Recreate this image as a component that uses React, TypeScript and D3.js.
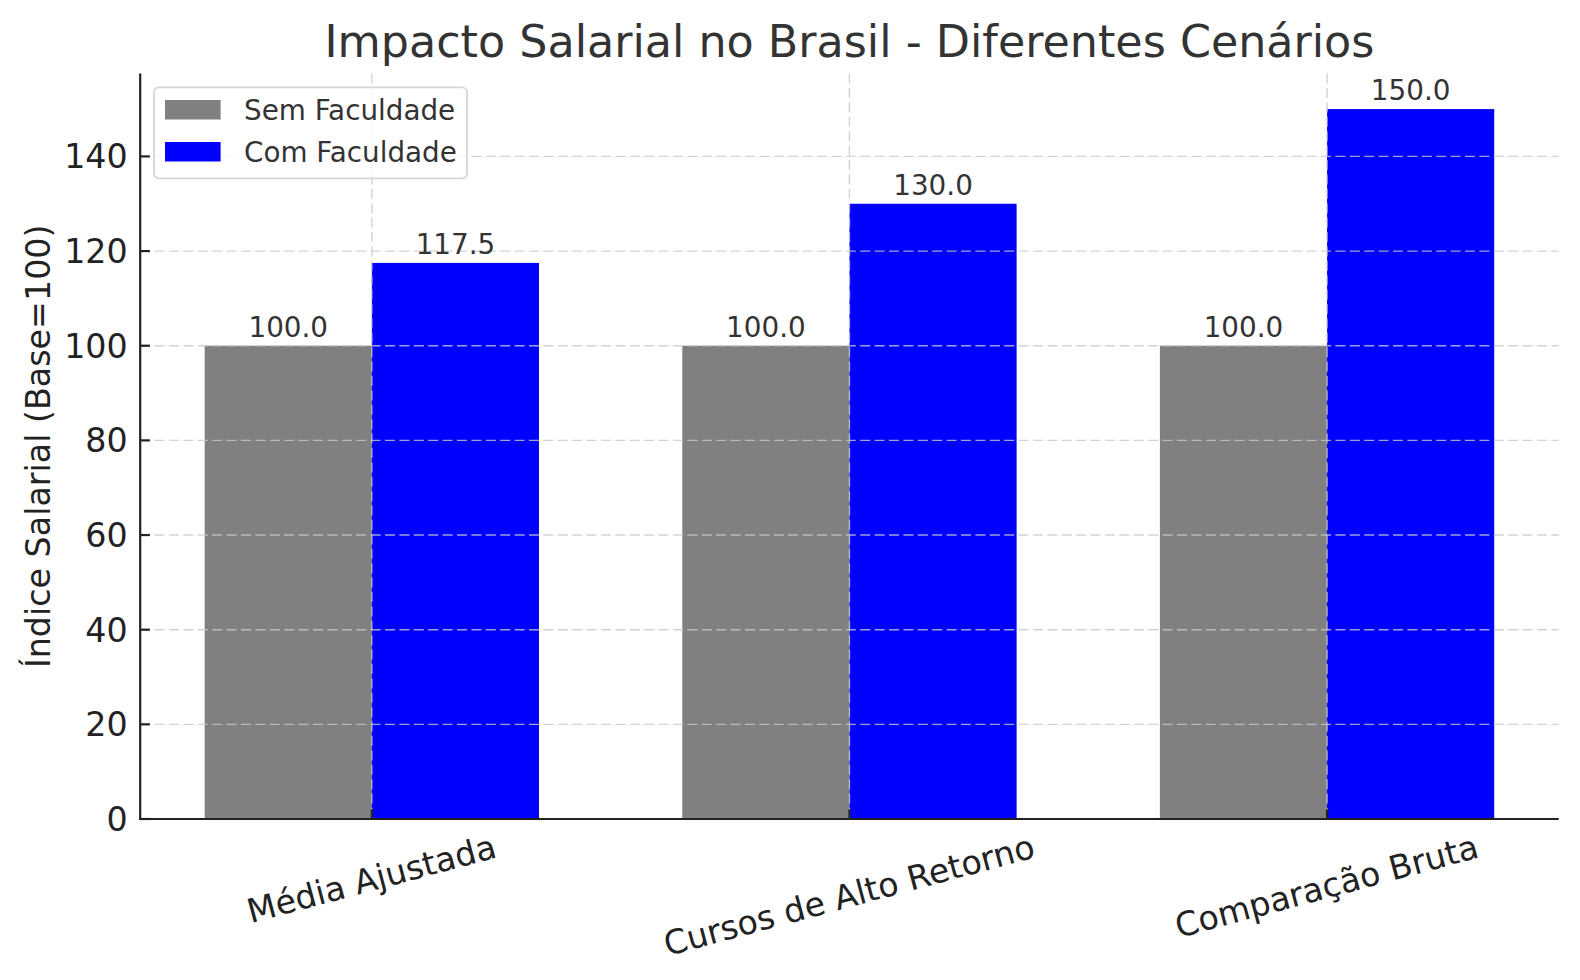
import React, { useEffect, useRef } from "react";
import * as d3 from "d3";

const categories = ["Média Ajustada", "Cursos de Alto Retorno", "Comparação Bruta"];
const semFaculdade = [100.0, 100.0, 100.0];
const comFaculdade = [117.5, 130.0, 150.0];
const seriesNames = ["Sem Faculdade", "Com Faculdade"];
const seriesColors = ["#808080", "#0000ff"];
const yTicks = [0, 20, 40, 60, 80, 100, 120, 140];
const title = "Impacto Salarial no Brasil - Diferentes Cenários";
const yLabel = "Índice Salarial (Base=100)";

const W = 1580;
const H = 980;
const FONT = "DejaVu Sans, sans-serif";

export default function App() {
  const ref = useRef<SVGSVGElement | null>(null);

  useEffect(() => {
    const svg = d3.select(ref.current);
    svg.selectAll("*").remove();

    const left = 140.2, right = 1558.7, top = 73.6, bottom = 819;
    const barW = 0.35;
    const x = d3.scaleLinear().domain([-0.485, 2.485]).range([left, right]);
    const yMax = 150 * 1.05;
    const y = d3.scaleLinear().domain([0, yMax]).range([bottom, top]);

    const series = [semFaculdade, comFaculdade];
    const offsets = [-barW / 2, barW / 2];

    // bars
    series.forEach((vals, si) => {
      svg.append("g")
        .selectAll("rect")
        .data(vals)
        .join("rect")
        .attr("x", (_d, i) => x(i + offsets[si] - barW / 2))
        .attr("width", (_d, i) => x(i + offsets[si] + barW / 2) - x(i + offsets[si] - barW / 2))
        .attr("y", (d) => y(d))
        .attr("height", (d) => y(0) - y(d))
        .attr("fill", seriesColors[si]);
    });

    // grid (above bars)
    const grid = svg.append("g")
      .attr("stroke", "#c8c8c8")
      .attr("stroke-opacity", 0.8)
      .attr("stroke-width", 1.4)
      .attr("stroke-dasharray", "10,4.4");
    grid.selectAll("line.h")
      .data(yTicks)
      .join("line")
      .attr("class", "h")
      .attr("x1", left).attr("x2", right)
      .attr("y1", (d) => y(d)).attr("y2", (d) => y(d));
    grid.selectAll("line.v")
      .data(categories.map((_c, i) => i))
      .join("line")
      .attr("class", "v")
      .attr("x1", (d) => x(d)).attr("x2", (d) => x(d))
      .attr("y1", top).attr("y2", bottom);

    // value labels
    series.forEach((vals, si) => {
      svg.append("g")
        .selectAll("text")
        .data(vals)
        .join("text")
        .attr("x", (_d, i) => x(i + offsets[si]))
        .attr("y", (d) => y(d) - 9)
        .attr("text-anchor", "middle")
        .attr("font-family", FONT)
        .attr("font-size", 27.8)
        .attr("fill", "#333333")
        .text((d) => d.toFixed(1));
    });

    // spines
    svg.append("line")
      .attr("x1", left).attr("x2", left).attr("y1", top).attr("y2", bottom + 1.1)
      .attr("stroke", "#222222").attr("stroke-width", 2.2);
    svg.append("line")
      .attr("x1", left - 1.1).attr("x2", right).attr("y1", bottom).attr("y2", bottom)
      .attr("stroke", "#222222").attr("stroke-width", 2.2);

    // y ticks (inward) and labels
    const yt = svg.append("g");
    yt.selectAll("line")
      .data(yTicks)
      .join("line")
      .attr("x1", left).attr("x2", left + 9.7)
      .attr("y1", (d) => y(d)).attr("y2", (d) => y(d))
      .attr("stroke", "#222222").attr("stroke-width", 2.2);
    yt.selectAll("text")
      .data(yTicks)
      .join("text")
      .attr("x", left - 12.5)
      .attr("y", (d) => y(d))
      .attr("dy", "0.36em")
      .attr("text-anchor", "end")
      .attr("font-family", FONT)
      .attr("font-size", 33.3)
      .attr("fill", "#222222")
      .text((d) => String(d));

    // x ticks (inward)
    svg.append("g")
      .selectAll("line")
      .data(categories.map((_c, i) => i))
      .join("line")
      .attr("x1", (d) => x(d)).attr("x2", (d) => x(d))
      .attr("y1", bottom).attr("y2", bottom - 9.7)
      .attr("stroke", "#222222").attr("stroke-width", 2.2);

    // x tick labels rotated 15deg
    const ang = 15 * Math.PI / 180;
    const lineH = 33.3 * 1.16;
    const xl = svg.append("g");
    categories.forEach((c, i) => {
      const t = xl.append("text")
        .attr("text-anchor", "middle")
        .attr("dy", "0.3em")
        .attr("font-family", FONT)
        .attr("font-size", 33.3)
        .attr("fill", "#222222")
        .text(c);
      const w = (t.node() as SVGTextElement).getComputedTextLength();
      const hh = w * Math.sin(ang) + lineH * Math.cos(ang);
      const cx = x(i);
      const cy = bottom + 9.7 + hh / 2;
      t.attr("transform", `translate(${cx},${cy}) rotate(-15)`);
    });

    // y label
    svg.append("text")
      .attr("transform", `translate(50,${(top + bottom) / 2}) rotate(-90)`)
      .attr("text-anchor", "middle")
      .attr("font-family", FONT)
      .attr("font-size", 33.3)
      .attr("fill", "#222222")
      .text(yLabel);

    // title
    svg.append("text")
      .attr("x", (left + right) / 2)
      .attr("y", 56.5)
      .attr("text-anchor", "middle")
      .attr("font-family", FONT)
      .attr("font-size", 44.4)
      .attr("fill", "#333333")
      .text(title);

    // legend
    const lg = svg.append("g");
    lg.append("rect")
      .attr("x", 154).attr("y", 87.3)
      .attr("width", 313).attr("height", 91)
      .attr("rx", 5).attr("ry", 5)
      .attr("fill", "#ffffff").attr("fill-opacity", 0.8)
      .attr("stroke", "#d6d6d6").attr("stroke-width", 1.8);
    const items = lg.selectAll("g.item")
      .data(seriesNames)
      .join("g")
      .attr("class", "item")
      .attr("transform", (_d, i) => `translate(0,${i * 42})`);
    items.append("rect")
      .attr("x", 165).attr("y", 100)
      .attr("width", 55.6).attr("height", 19.5)
      .attr("fill", (_d, i) => seriesColors[i]);
    items.append("text")
      .attr("x", 244)
      .attr("y", 119.5)
      .attr("font-family", FONT)
      .attr("font-size", 27.8)
      .attr("fill", "#333333")
      .text((d) => d);
  }, []);

  return (
    <svg
      ref={ref}
      width={W}
      height={H}
      style={{ position: "absolute", left: 0, top: 0, background: "#ffffff", display: "block" }}
    />
  );
}
